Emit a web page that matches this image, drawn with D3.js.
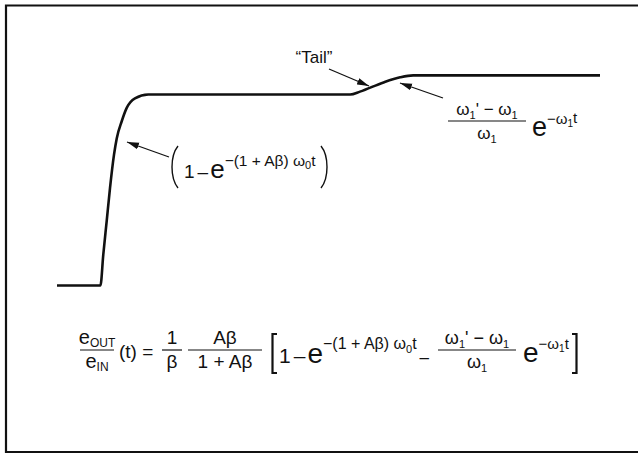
<!DOCTYPE html>
<html>
<head>
<meta charset="utf-8">
<script src="https://cdn.jsdelivr.net/npm/d3@7"></script>
<style>
  html, body { margin: 0; padding: 0; background: #fff; }
  svg { display: block; }
  text { font-family: "Liberation Sans", Arial, Helvetica, sans-serif; fill: #111; }
</style>
</head>
<body>
<svg id="chart" width="638" height="455"></svg>
<script>
// Closed-loop step response: fast exponential rise, then a slow "tail"
const timeUs  = [-4, 0, 0.26, 0.58, 0.88, 1.25, 1.5, 1.96, 2.42, 3.18, 4.4, 23.0, 23.9, 26.0, 27.6, 28.8, 46];
const output  = [0, 0, 0.16, 0.34, 0.51, 0.685, 0.77, 0.86, 0.93, 0.98, 1.0, 1.0, 1.015, 1.062, 1.09, 1.1, 1.1];
const tailLabel = "\u201CTail\u201D";

const svg = d3.select("#chart");
const ink = "#111";

// frame
svg.append("path")
  .attr("d", "M646,5.5 H6 V452 H646")
  .attr("fill", "none").attr("stroke", ink).attr("stroke-width", 2.2);

const x = d3.scaleLinear().domain([-4, 46]).range([57, 600]);
const y = d3.scaleLinear().domain([0, 1]).range([285.5, 94.5]);

const pts = timeUs.map((t, i) => [t, output[i]]);
const line = d3.line().x(d => x(d[0])).y(d => y(d[1])).curve(d3.curveMonotoneX);

svg.append("path")
  .datum(pts)
  .attr("d", line)
  .attr("fill", "none")
  .attr("stroke", ink)
  .attr("stroke-width", 2.6)
  .attr("stroke-linejoin", "round");

// arrowhead marker
svg.append("defs").append("marker")
  .attr("id", "head")
  .attr("markerUnits", "userSpaceOnUse")
  .attr("viewBox", "0 0 12 8")
  .attr("refX", 12).attr("refY", 4)
  .attr("markerWidth", 12).attr("markerHeight", 8)
  .attr("orient", "auto")
  .append("path").attr("d", "M0,0.6 L12,4 L0,7.4 Z").attr("fill", ink);

function arrow(x1, y1, x2, y2) {
  svg.append("line")
    .attr("x1", x1).attr("y1", y1).attr("x2", x2).attr("y2", y2)
    .attr("stroke", ink).attr("stroke-width", 1.3)
    .attr("marker-end", "url(#head)");
}

// rich text: parts = [{t, size, off, dx}] where off is the baseline offset
function rich(parent, px, py, parts, anchor) {
  const t = parent.append("text").attr("x", px).attr("y", py)
    .attr("text-anchor", anchor || "start");
  let cur = 0;
  parts.forEach(p => {
    const off = p.off || 0;
    t.append("tspan").attr("dy", off - cur).attr("dx", p.dx || null)
      .attr("font-size", p.size)
      .text(p.t);
    cur = off;
  });
  return t;
}

function frac(cx, barY, num, den, halfW) {
  rich(svg, cx, barY - 6, num, "middle");
  rich(svg, cx, barY + 18, den, "middle");
  svg.append("line").attr("x1", cx - halfW).attr("x2", cx + halfW)
    .attr("y1", barY).attr("y2", barY)
    .attr("stroke", ink).attr("stroke-width", 1.2);
}

// --- rise annotation ---
arrow(169, 157, 127, 142);
svg.append("path").attr("d", "M178,146 C170,156 170,178 178,188")
  .attr("fill", "none").attr("stroke", ink).attr("stroke-width", 1.4);
svg.append("path").attr("d", "M321,146 C329,156 329,178 321,188")
  .attr("fill", "none").attr("stroke", ink).attr("stroke-width", 1.4);
rich(svg, 184, 178, [
  { t: "1", size: 19 },
  { t: "\u2013", size: 19, dx: 3 },
  { t: "e", size: 26, dx: 2 },
  { t: "\u2212(1 + A\u03B2) \u03C9", size: 15.5, off: -12 },
  { t: "0", size: 11, off: -9 },
  { t: "t", size: 15.5, off: -12 }
]);

// --- tail annotation ---
svg.append("text").attr("x", 314).attr("y", 63).attr("text-anchor", "middle")
  .attr("font-size", 17).text(tailLabel);
arrow(329, 69, 369, 86);
arrow(443, 98, 400, 83);
frac(487, 121,
  [{ t: "\u03C9", size: 17 }, { t: "1", size: 11, off: 4 }, { t: "' \u2212 \u03C9", size: 17 }, { t: "1", size: 11, off: 4 }],
  [{ t: "\u03C9", size: 17 }, { t: "1", size: 11, off: 4 }],
  39);
rich(svg, 532, 136, [
  { t: "e", size: 27 },
  { t: "\u2212\u03C9", size: 15, off: -12 },
  { t: "1", size: 10, off: -9 },
  { t: "t", size: 15, off: -13 }
]);

// --- closed-loop expression ---
frac(97, 350,
  [{ t: "e", size: 20 }, { t: "OUT", size: 12, off: 3 }],
  [{ t: "e", size: 20 }, { t: "IN", size: 12, off: 3 }],
  17);
svg.append("text").attr("x", 119).attr("y", 358).attr("font-size", 19).text("(t) =");
frac(172, 350, [{ t: "1", size: 19 }], [{ t: "\u03B2", size: 19 }], 10);
frac(225, 350, [{ t: "A\u03B2", size: 19 }], [{ t: "1 + A\u03B2", size: 19 }], 37);

svg.append("path").attr("d", "M277,334 H272.5 V373 H277")
  .attr("fill", "none").attr("stroke", ink).attr("stroke-width", 2.2);
svg.append("path").attr("d", "M572,334 H576.5 V373 H572")
  .attr("fill", "none").attr("stroke", ink).attr("stroke-width", 2.2);

rich(svg, 279, 363, [
  { t: "1", size: 21 },
  { t: "\u2013", size: 21, dx: 3 },
  { t: "e", size: 28, dx: 2 },
  { t: "\u2212(1 + A\u03B2) \u03C9", size: 16, off: -14 },
  { t: "0", size: 11, off: -10 },
  { t: "t", size: 16, off: -14 },
  { t: "\u2013", size: 17, off: 0, dx: 3 }
]);
frac(477, 350,
  [{ t: "\u03C9", size: 18 }, { t: "1", size: 11, off: 4 }, { t: "' \u2212 \u03C9", size: 18 }, { t: "1", size: 11, off: 4 }],
  [{ t: "\u03C9", size: 18 }, { t: "1", size: 11, off: 4 }],
  39);
rich(svg, 523, 362, [
  { t: "e", size: 28 },
  { t: "\u2212\u03C9", size: 15, off: -13 },
  { t: "1", size: 10, off: -10 },
  { t: "t", size: 15, off: -13 }
]);
</script>
</body>
</html>
